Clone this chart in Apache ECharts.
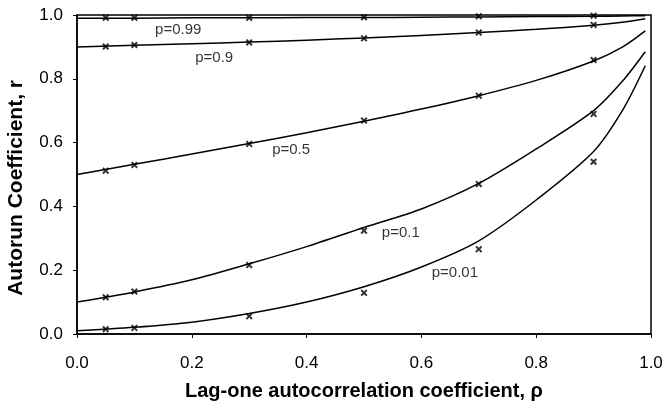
<!DOCTYPE html>
<html>
<head>
<meta charset="utf-8">
<script src="https://cdn.jsdelivr.net/npm/echarts@6/dist/echarts.min.js"></script>
<style>
    html, body { margin: 0; padding: 0; background: #fff; }
    #main { width: 667px; height: 406px; }
</style>
</head>
<body>
<div id="main"></div>
<script>
// lag-one autocorrelation values where the curves were read
const curveX = [0, 0.1, 0.2, 0.3, 0.4, 0.5, 0.6, 0.7, 0.8, 0.9, 0.95, 0.99]
const curveP99 = [0.990, 0.990, 0.991, 0.991, 0.992, 0.992, 0.993, 0.994, 0.995, 0.996, 0.997, 0.998]
const curveP90 = [0.900, 0.905, 0.910, 0.915, 0.921, 0.928, 0.936, 0.945, 0.955, 0.968, 0.977, 0.988]
const curveP50 = [0.500, 0.532, 0.564, 0.597, 0.631, 0.667, 0.705, 0.747, 0.795, 0.856, 0.899, 0.950]
const curveP10 = [0.100, 0.132, 0.170, 0.220, 0.274, 0.334, 0.392, 0.472, 0.580, 0.700, 0.792, 0.885]
const curveP01 = [0.010, 0.021, 0.037, 0.064, 0.100, 0.148, 0.210, 0.292, 0.420, 0.572, 0.700, 0.841]

// simulated points (x markers)
const markX = [0.05, 0.1, 0.3, 0.5, 0.7, 0.9]
const markP99 = [0.991, 0.991, 0.991, 0.993, 0.996, 0.998]
const markP90 = [0.901, 0.906, 0.914, 0.927, 0.945, 0.969]
const markP50 = [0.512, 0.530, 0.596, 0.669, 0.747, 0.859]
const markP10 = [0.115, 0.133, 0.216, 0.324, 0.470, 0.690]
const markP01 = [0.015, 0.019, 0.056, 0.129, 0.266, 0.540]

// curve labels, placed in data space
const labelText = ['p=0.99', 'p=0.9', 'p=0.5', 'p=0.1', 'p=0.01']
const labelX = [0.136, 0.206, 0.340, 0.531, 0.618]
const labelY = [0.953, 0.865, 0.577, 0.317, 0.191]

const FONT = '"Liberation Sans", Arial, sans-serif'
const crossPath = 'path://M0,2L2,0L5,3L8,0L10,2L7,5L10,8L8,10L5,7L2,10L0,8L3,5Z'

const pairs = (xs, ys) => xs.map((x, i) => [x, ys[i]])

function lineSeries(ys) {
    return {
        type: 'line',
        data: pairs(curveX, ys),
        smooth: 0.3,
        showSymbol: false,
        silent: true,
        lineStyle: { color: '#000', width: 1.5 },
        z: 3,
    }
}

function markSeries(ys) {
    return {
        type: 'scatter',
        data: pairs(markX, ys),
        symbol: crossPath,
        symbolSize: 7,
        itemStyle: { color: '#000' },
        silent: true,
        z: 4,
    }
}

function renderChart() {
    var chartDom = document.getElementById('main')
    var myChart = echarts.init(chartDom, null, { renderer: 'canvas' })
    var option = {
        animation: false,
        backgroundColor: '#fff',
        grid: {
            left: 77,
            right: 16,
            top: 15,
            bottom: 72,
            show: true,
            borderColor: '#000',
            borderWidth: 1.5,
        },
        // y title sits a little below the plot's middle in the original
        graphic: [{
            type: 'text',
            left: 6,
            top: 80,
            style: {
                text: 'Autorun Coefficient, r',
                font: 'bold 21px ' + FONT,
                fill: '#000',
            },
            rotation: Math.PI / 2,
            originX: 0,
            originY: 0,
        }],
        xAxis: {
            type: 'value',
            min: 0,
            max: 1,
            interval: 0.2,
            name: 'Lag-one autocorrelation coefficient, ρ',
            nameLocation: 'middle',
            nameGap: 47,
            nameTextStyle: { fontFamily: FONT, fontSize: 20, fontWeight: 'bold', color: '#000' },
            axisLine: { lineStyle: { color: '#000', width: 1.5 } },
            axisTick: { show: true, length: 4, inside: false, lineStyle: { color: '#000' } },
            axisLabel: {
                fontFamily: FONT, fontSize: 17, color: '#000', margin: 21,
                formatter: (v) => v.toFixed(1),
            },
            splitLine: { show: false },
        },
        yAxis: {
            type: 'value',
            min: 0,
            max: 1,
            interval: 0.2,
            axisLine: { lineStyle: { color: '#000', width: 1.5 } },
            axisTick: { show: true, length: 4, inside: false, lineStyle: { color: '#000' } },
            axisLabel: {
                fontFamily: FONT, fontSize: 17, color: '#000', margin: 14,
                formatter: (v) => v.toFixed(1),
            },
            splitLine: { show: false },
        },
        series: [
            lineSeries(curveP99),
            lineSeries(curveP90),
            lineSeries(curveP50),
            lineSeries(curveP10),
            lineSeries(curveP01),
            markSeries(markP99),
            markSeries(markP90),
            markSeries(markP50),
            markSeries(markP10),
            markSeries(markP01),
            {
                type: 'scatter',
                data: labelText.map((t, i) => ({ value: [labelX[i], labelY[i]], name: t })),
                symbolSize: 0,
                silent: true,
                label: {
                    show: true,
                    position: 'right',
                    distance: 0,
                    formatter: (p) => p.name,
                    fontFamily: FONT,
                    fontSize: 15,
                    color: '#000',
                },
                z: 5,
            },
        ],
    }
    myChart.setOption(option)
}

renderChart()
</script>
</body>
</html>
